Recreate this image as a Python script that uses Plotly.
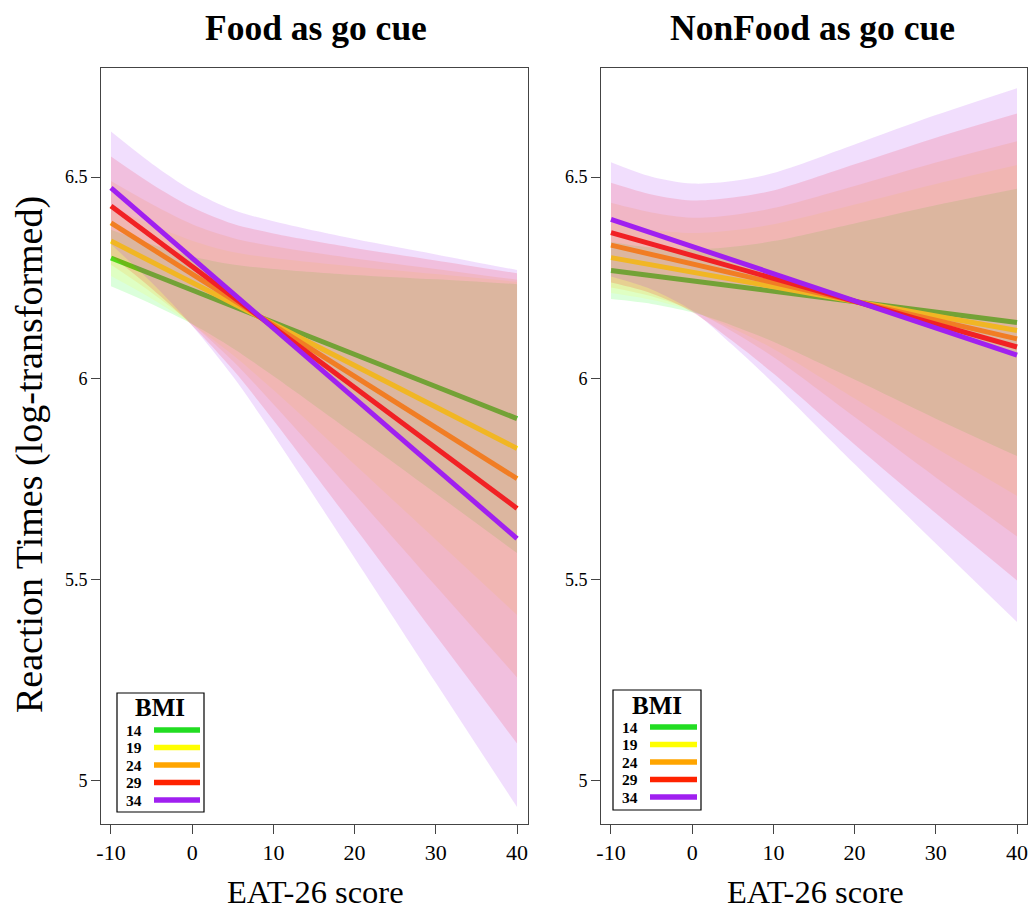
import plotly.graph_objects as go

W, H = 1033, 912

# ---------------- data ----------------
bmi_levels = ["14", "19", "24", "29", "34"]
line_colors = ["#22DD22", "#FFFF00", "#FFA500", "#FF2200", "#A020F0"]
band_colors = ["rgba(0,255,0,0.14)", "rgba(255,255,0,0.11)", "rgba(255,165,0,0.13)",
               "rgba(255,0,0,0.14)", "rgba(160,32,240,0.15)"]

fit_x = [-10, 40]
band_x = [-10, -5, 0, 5, 10, 20, 30, 40]

# Food as go cue
food_fit_14 = [6.299, 5.900]
food_fit_19 = [6.341, 5.826]
food_fit_24 = [6.386, 5.751]
food_fit_29 = [6.428, 5.677]
food_fit_34 = [6.473, 5.602]

food_hi_14 = [6.369, 6.333, 6.303, 6.283, 6.272, 6.257, 6.246, 6.234]
food_lo_14 = [6.229, 6.185, 6.135, 6.075, 6.006, 5.861, 5.714, 5.566]
food_hi_19 = [6.428, 6.382, 6.342, 6.314, 6.299, 6.278, 6.259, 6.240]
food_lo_19 = [6.254, 6.198, 6.134, 6.058, 5.971, 5.786, 5.599, 5.412]
food_hi_24 = [6.490, 6.433, 6.383, 6.349, 6.328, 6.298, 6.272, 6.245]
food_lo_24 = [6.282, 6.213, 6.135, 6.043, 5.936, 5.712, 5.484, 5.257]
food_hi_29 = [6.551, 6.483, 6.425, 6.384, 6.360, 6.324, 6.293, 6.261]
food_lo_29 = [6.305, 6.223, 6.131, 6.022, 5.896, 5.630, 5.361, 5.093]
food_hi_34 = [6.613, 6.534, 6.467, 6.419, 6.390, 6.346, 6.308, 6.269]
food_lo_34 = [6.333, 6.238, 6.131, 6.005, 5.860, 5.554, 5.244, 4.935]

# NonFood as go cue
nonfood_fit_14 = [6.268, 6.139]
nonfood_fit_19 = [6.300, 6.119]
nonfood_fit_24 = [6.331, 6.098]
nonfood_fit_29 = [6.362, 6.078]
nonfood_fit_34 = [6.395, 6.058]

nonfood_hi_14 = [6.339, 6.325, 6.320, 6.327, 6.341, 6.385, 6.430, 6.471]
nonfood_lo_14 = [6.197, 6.185, 6.164, 6.131, 6.091, 5.997, 5.900, 5.807]
nonfood_hi_19 = [6.388, 6.369, 6.361, 6.368, 6.383, 6.432, 6.483, 6.530]
nonfood_lo_19 = [6.212, 6.195, 6.167, 6.124, 6.073, 5.950, 5.827, 5.708]
nonfood_hi_24 = [6.436, 6.412, 6.399, 6.406, 6.423, 6.478, 6.536, 6.589]
nonfood_lo_24 = [6.226, 6.204, 6.169, 6.116, 6.053, 5.904, 5.754, 5.607]
nonfood_hi_29 = [6.486, 6.457, 6.442, 6.449, 6.467, 6.532, 6.598, 6.658]
nonfood_lo_29 = [6.238, 6.211, 6.165, 6.092, 6.012, 5.836, 5.665, 5.498]
nonfood_hi_34 = [6.537, 6.501, 6.484, 6.490, 6.510, 6.581, 6.654, 6.721]
nonfood_lo_34 = [6.253, 6.221, 6.168, 6.082, 5.988, 5.787, 5.590, 5.395]

x_ticks = [-10, 0, 10, 20, 30, 40]
x_ticktext = ["-10", "0", "10", "20", "30", "40"]
y_ticks = [5, 5.5, 6, 6.5]
y_ticktext = ["5", "5.5", "6", "6.5"]

panels = [
    dict(xa="x", ya="y",
         fits=[food_fit_14, food_fit_19, food_fit_24, food_fit_29, food_fit_34],
         his=[food_hi_14, food_hi_19, food_hi_24, food_hi_29, food_hi_34],
         los=[food_lo_14, food_lo_19, food_lo_24, food_lo_29, food_lo_34]),
    dict(xa="x2", ya="y2",
         fits=[nonfood_fit_14, nonfood_fit_19, nonfood_fit_24, nonfood_fit_29, nonfood_fit_34],
         his=[nonfood_hi_14, nonfood_hi_19, nonfood_hi_24, nonfood_hi_29, nonfood_hi_34],
         los=[nonfood_lo_14, nonfood_lo_19, nonfood_lo_24, nonfood_lo_29, nonfood_lo_34]),
]

SERIF = "Liberation Serif, Times New Roman, serif"

fig = go.Figure()
for p in panels:
    for i in range(5):
        fig.add_trace(go.Scatter(x=band_x, y=p["los"][i], xaxis=p["xa"], yaxis=p["ya"],
                                 mode="lines", line=dict(width=0, shape="spline", smoothing=0.9),
                                 showlegend=False, hoverinfo="skip"))
        fig.add_trace(go.Scatter(x=band_x, y=p["his"][i], xaxis=p["xa"], yaxis=p["ya"],
                                 mode="lines", line=dict(width=0, shape="spline", smoothing=0.9),
                                 fill="tonexty", fillcolor=band_colors[i],
                                 showlegend=False, hoverinfo="skip"))
        fig.add_trace(go.Scatter(x=fit_x, y=p["fits"][i], xaxis=p["xa"], yaxis=p["ya"],
                                 mode="lines", line=dict(width=5, color=line_colors[i]),
                                 name="BMI " + bmi_levels[i], showlegend=False))


def px(x):
    return x / W


def py(y):
    return 1 - y / H


axis_common = dict(showgrid=False, zeroline=False, showline=True, mirror=True,
                   linecolor="#444444", linewidth=1, ticks="outside", ticklen=9,
                   tickcolor="#444444", tickwidth=1, automargin=False)

ydom = [py(824), py(68)]
fig.update_layout(
    template="none",
    width=W, height=H, margin=dict(l=0, r=0, t=0, b=0, pad=0),
    paper_bgcolor="white", plot_bgcolor="white", showlegend=False,
    font=dict(family=SERIF, color="black"),
    xaxis=dict(domain=[px(101), px(528)], range=[-11.23, 41.35], anchor="y",
               tickvals=x_ticks, ticktext=x_ticktext,
               tickfont=dict(size=22, family=SERIF, color="black"), **axis_common),
    yaxis=dict(domain=ydom, range=[4.893, 6.771], anchor="x",
               tickvals=y_ticks, ticktext=y_ticktext,
               tickfont=dict(size=18, family=SERIF, color="black"), **axis_common),
    xaxis2=dict(domain=[px(601), px(1027)], range=[-11.23, 41.23], anchor="y2",
                tickvals=x_ticks, ticktext=x_ticktext,
                tickfont=dict(size=22, family=SERIF, color="black"), **axis_common),
    yaxis2=dict(domain=ydom, range=[4.893, 6.771], anchor="x2",
                tickvals=y_ticks, ticktext=y_ticktext,
                tickfont=dict(size=18, family=SERIF, color="black"), **axis_common),
)

ann = []
# panel titles
ann.append(dict(text="<b>Food as go cue</b>", x=px(316), y=py(28), font=dict(size=35.5)))
ann.append(dict(text="<b>NonFood as go cue</b>", x=px(812), y=py(28), font=dict(size=35.5)))
# x titles
ann.append(dict(text="EAT-26 score", x=px(315), y=py(892), font=dict(size=32.5)))
ann.append(dict(text="EAT-26 score", x=px(815), y=py(892), font=dict(size=32.5)))
# y title
ann.append(dict(text="Reaction Times (log-transformed)", x=px(29), y=py(455),
                textangle=-90, font=dict(size=38)))

shapes = []
legend_specs = [
    dict(box=(117, 693, 204, 812), title=(160, 707), num_x=134, line=(154, 200),
         rows=[730, 747.5, 765, 782.5, 800]),
    dict(box=(613, 690, 701, 810), title=(657, 705), num_x=630, line=(650, 697),
         rows=[727, 744.5, 762, 779.5, 797]),
]
for spec in legend_specs:
    x0, y0, x1, y1 = spec["box"]
    shapes.append(dict(type="rect", xref="paper", yref="paper", x0=px(x0), x1=px(x1),
                       y0=py(y1), y1=py(y0), line=dict(color="black", width=1.2),
                       fillcolor="white", layer="above"))
    ann.append(dict(text="<b>BMI</b>", x=px(spec["title"][0]), y=py(spec["title"][1]),
                    font=dict(size=25)))
    for i, lvl in enumerate(bmi_levels):
        ry = spec["rows"][i]
        ann.append(dict(text="<b>" + lvl + "</b>", x=px(spec["num_x"]), y=py(ry),
                        font=dict(size=15.5)))
        shapes.append(dict(type="line", xref="paper", yref="paper",
                           x0=px(spec["line"][0]), x1=px(spec["line"][1]),
                           y0=py(ry), y1=py(ry),
                           line=dict(color=line_colors[i], width=5.5), layer="above"))

for a in ann:
    a.setdefault("xref", "paper")
    a.setdefault("yref", "paper")
    a.setdefault("showarrow", False)
    a.setdefault("xanchor", "center")
    a.setdefault("yanchor", "middle")
    a["font"] = dict(family=SERIF, color="black", **a["font"])

fig.update_layout(annotations=ann, shapes=shapes)
fig.write_html("out.html")
